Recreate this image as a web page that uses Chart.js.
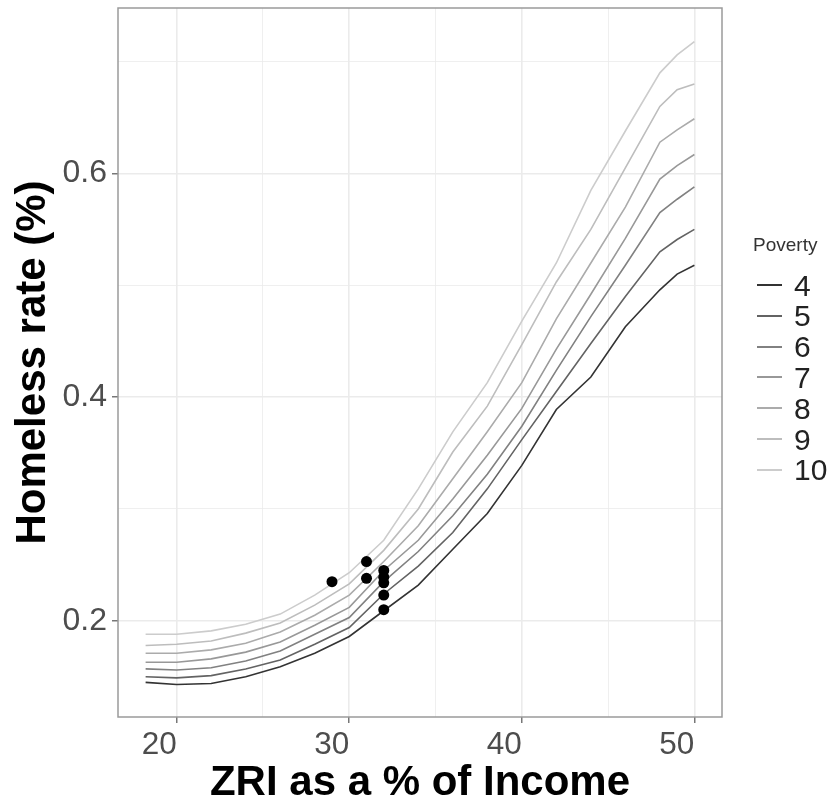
<!DOCTYPE html>
<html>
<head>
<meta charset="utf-8">
<script src="https://cdn.jsdelivr.net/npm/chart.js@4.4.0/dist/chart.umd.min.js"></script>
<style>
  html, body { margin: 0; padding: 0; background: #fff; }
  #wrap { position: relative; width: 835px; height: 801px; }
  #legend { position: absolute; left: 0; top: 0; font-family: 'Liberation Sans', Arial, Helvetica, sans-serif; }
  .lt { position: absolute; font-size: 19px; color: #333; white-space: nowrap; line-height: 26px; }
  .li { position: absolute; display: flex; align-items: center; height: 31px; white-space: nowrap; }
  .key { display: inline-block; width: 25px; height: 2px; }
  .lab { margin-left: 12px; font-size: 30px; color: #222; line-height: 31px; }
</style>
</head>
<body>
<div id="wrap">
  <canvas id="chart" width="835" height="801"></canvas>
  <div id="legend"></div>
</div>
<script>
// ZRI as % of income (x) and predicted homeless rate per poverty level
const zri = [18.2, 20, 22, 24, 26, 28, 30, 32, 34, 36, 38, 40, 42, 44, 46, 48, 49, 50];
const pov4  = [0.145, 0.143, 0.144, 0.150, 0.159, 0.171, 0.186, 0.209, 0.232, 0.264, 0.296, 0.339, 0.389, 0.418, 0.463, 0.496, 0.510, 0.518];
const pov5  = [0.150, 0.149, 0.151, 0.157, 0.165, 0.179, 0.194, 0.224, 0.249, 0.279, 0.318, 0.362, 0.405, 0.448, 0.490, 0.530, 0.541, 0.550];
const pov6  = [0.157, 0.156, 0.158, 0.164, 0.173, 0.188, 0.203, 0.235, 0.262, 0.294, 0.331, 0.374, 0.424, 0.472, 0.518, 0.565, 0.577, 0.588];
const pov7  = [0.163, 0.163, 0.166, 0.172, 0.181, 0.196, 0.212, 0.245, 0.272, 0.309, 0.348, 0.390, 0.443, 0.492, 0.542, 0.595, 0.607, 0.617];
const pov8  = [0.171, 0.171, 0.174, 0.180, 0.190, 0.205, 0.223, 0.253, 0.285, 0.327, 0.369, 0.413, 0.470, 0.520, 0.570, 0.628, 0.639, 0.649];
const pov9  = [0.178, 0.179, 0.182, 0.189, 0.198, 0.214, 0.233, 0.263, 0.300, 0.351, 0.392, 0.447, 0.503, 0.550, 0.605, 0.660, 0.675, 0.680];
const pov10 = [0.188, 0.188, 0.191, 0.197, 0.206, 0.223, 0.243, 0.272, 0.318, 0.369, 0.413, 0.468, 0.520, 0.585, 0.638, 0.690, 0.706, 0.718];
const povertyLevels = ['4', '5', '6', '7', '8', '9', '10'];
const povertySeries = [pov4, pov5, pov6, pov7, pov8, pov9, pov10];

// observed cities
const cityX = [29.0, 31.0, 31.0, 32.0, 32.0, 32.0, 32.0, 32.0];
const cityY = [0.235, 0.253, 0.238, 0.245, 0.239, 0.234, 0.223, 0.210];

const xTickVals = [20, 25, 30, 35, 40, 45, 50];
const xTickLabels = ['20', '', '30', '', '40', '', '50'];
const yTickVals = [0.2, 0.3, 0.4, 0.5, 0.6, 0.7];
const yTickLabels = ['0.2', '', '0.4', '', '0.6', ''];

const greys = ['#333333', '#636363', '#818181', '#989898', '#ababab', '#bdbdbd', '#cccccc'];
const FONT = "'Liberation Sans', Arial, Helvetica, sans-serif";

const isMajor = ctx => ctx.tick && ctx.tick.label !== '';

const panelBorder = {
  id: 'panelBorder',
  afterDatasetsDraw(chart) {
    const { ctx, chartArea: a } = chart;
    ctx.save();
    ctx.strokeStyle = '#9a9a9a';
    ctx.lineWidth = 1.5;
    ctx.strokeRect(a.left, a.top, a.right - a.left, a.bottom - a.top);
    ctx.restore();
  }
};

const datasets = [{
  label: 'cities',
  data: cityX.map((x, i) => ({ x, y: cityY[i] })),
  showLine: false,
  pointRadius: 5.5,
  pointBackgroundColor: '#000',
  pointBorderWidth: 0,
  order: 0
}];
povertySeries.forEach((s, i) => {
  datasets.push({
    label: povertyLevels[i],
    data: zri.map((x, j) => ({ x, y: s[j] })),
    showLine: true,
    borderColor: greys[i],
    borderWidth: 1.6,
    pointRadius: 0,
    tension: 0,
    order: 1
  });
});

new Chart(document.getElementById('chart'), {
  type: 'scatter',
  data: { datasets },
  options: {
    responsive: false,
    animation: false,
    layout: { padding: { left: 8, right: 113, top: 8, bottom: 0 } },
    plugins: { legend: { display: false }, tooltip: { enabled: false } },
    scales: {
      x: {
        type: 'linear', min: 16.6, max: 51.6,
        afterBuildTicks: s => { s.ticks = xTickVals.map(v => ({ value: v })); },
        afterFit: s => { s.height = 84; s.paddingLeft = 0; s.paddingRight = 0; },
        ticks: {
          autoSkip: false, maxRotation: 0, padding: 3, align: 'end',
          callback: (v, i) => xTickLabels[i],
          font: { family: FONT, size: 31.5 }, color: '#4d4d4d'
        },
        grid: {
          color: '#ebebeb',
          lineWidth: ctx => isMajor(ctx) ? 1.6 : 0.8,
          tickColor: ctx => isMajor(ctx) ? '#555' : 'rgba(0,0,0,0)',
          tickLength: 6, tickWidth: 1.2
        },
        border: { display: false },
        title: {
          display: true, text: 'ZRI as a % of Income', color: '#000',
          font: { family: FONT, size: 42, weight: 'bold' }, padding: { top: 0, bottom: -8 }
        }
      },
      y: {
        type: 'linear', min: 0.114, max: 0.748,
        afterBuildTicks: s => { s.ticks = yTickVals.map(v => ({ value: v })); },
        afterFit: s => { s.width = 110; s.paddingTop = 0; s.paddingBottom = 0; },
        ticks: {
          autoSkip: false, padding: 5,
          callback: (v, i) => yTickLabels[i],
          font: { family: FONT, size: 32 }, color: '#4d4d4d'
        },
        grid: {
          color: '#ebebeb',
          lineWidth: ctx => isMajor(ctx) ? 1.6 : 0.8,
          tickColor: ctx => isMajor(ctx) ? '#555' : 'rgba(0,0,0,0)',
          tickLength: 6, tickWidth: 1.2
        },
        border: { display: false },
        title: {
          display: true, text: 'Homeless rate (%)', color: '#000',
          font: { family: FONT, size: 42, weight: 'bold' }, padding: { top: 0, bottom: 0 }
        }
      }
    }
  },
  plugins: [panelBorder]
});

// legend (ggplot style, outside the panel on the right)
const leg = document.getElementById('legend');
let html = '<div class="lt" style="left:753px;top:232px">Poverty</div>';
povertyLevels.forEach((p, i) => {
  const top = 269.5 + i * 30.8;
  html += `<div class="li" style="left:757px;top:${top}px"><span class="key" style="background:${greys[i]}"></span><span class="lab">${p}</span></div>`;
});
leg.innerHTML = html;
</script>
</body>
</html>
